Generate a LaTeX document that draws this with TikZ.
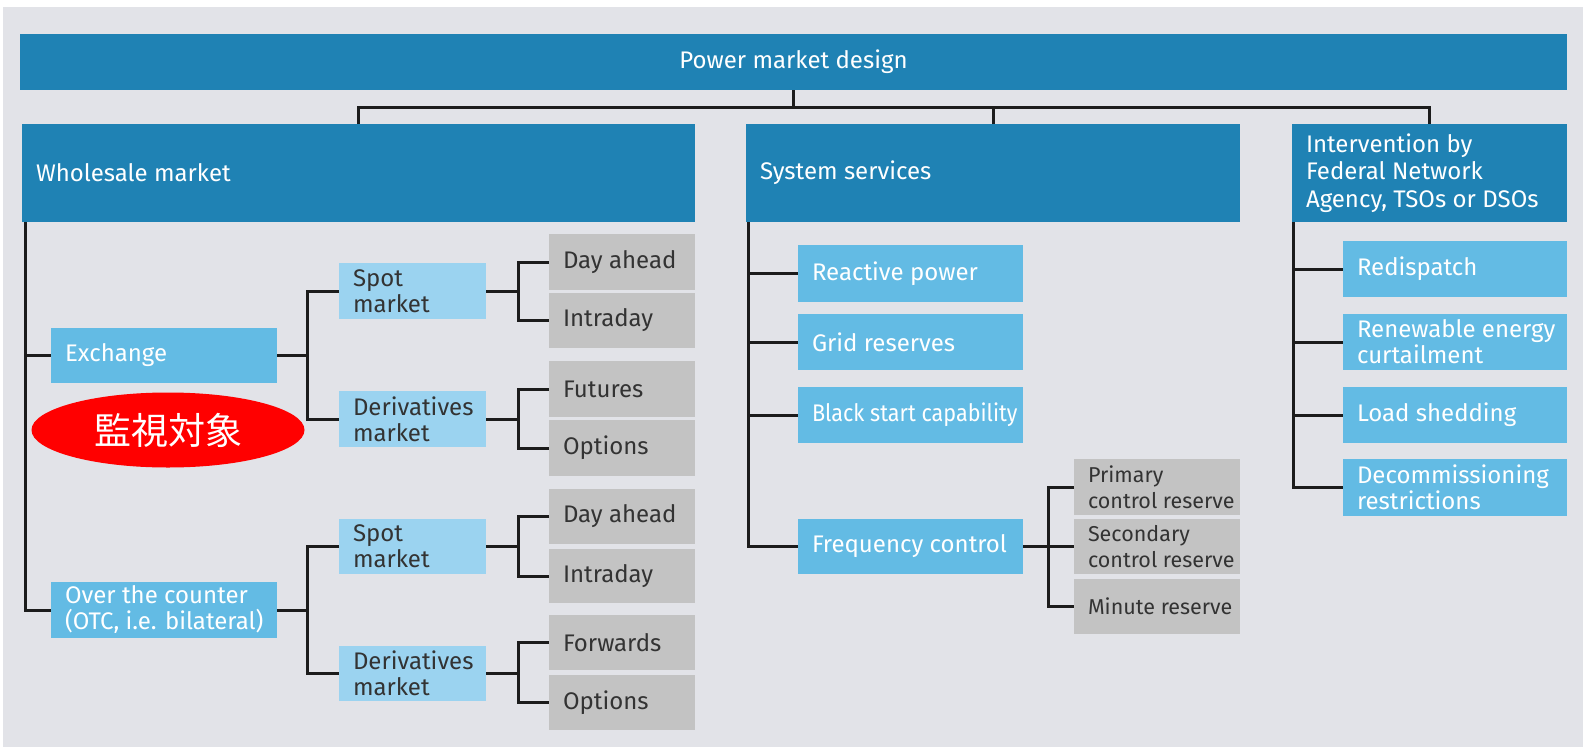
\documentclass[tikz,border=0pt]{standalone}
\usepackage{fontspec}
\setmainfont{Fira Sans}
\newfontfamily\narrowfont{Fira Sans}[FakeStretch=0.9]
\newfontfamily\cjkfont{Noto Sans CJK JP}
\usetikzlibrary{shapes.geometric}

\definecolor{pagebg}{HTML}{E2E3E8}
\definecolor{darkblue}{HTML}{1F82B4}
\definecolor{midblue}{HTML}{63BBE4}
\definecolor{lightblue}{HTML}{9BD3F0}
\definecolor{greybox}{HTML}{C3C3C3}
\definecolor{inktext}{HTML}{333333}
\definecolor{linec}{HTML}{1C1C1C}
\definecolor{alertred}{HTML}{FF0000}

% box: name, style, x, y (top left), width, height, label
\newcommand\panel[7]{%
  \node[#2, minimum width=#5pt, minimum height=#6pt] (#1) at (#3,#4) {};
  \node[#2 text, anchor=west] (#1-t) at ([xshift=14pt]#1.west) {#7};
}

\begin{document}
\begin{tikzpicture}[x=1pt, y=-1pt,
  box/.style={rectangle, inner sep=0pt, outer sep=0pt, anchor=north west},
  dark/.style={box, fill=darkblue},
  mid/.style={box, fill=midblue},
  light/.style={box, fill=lightblue},
  grey/.style={box, fill=greybox},
  label base/.style={inner sep=0pt, outer sep=0pt, align=left},
  dark text/.style={label base, text=white, font=\fontsize{24}{27.5}\selectfont},
  mid text/.style={label base, text=white, font=\fontsize{24}{26}\selectfont},
  light text/.style={label base, text=inktext, font=\fontsize{24}{26}\selectfont},
  grey text/.style={label base, text=inktext, font=\fontsize{24}{26}\selectfont},
  small grey/.style={box, fill=greybox},
  small grey text/.style={label base, text=inktext, font=\fontsize{21.5}{26}\selectfont},
  conn/.style={draw=linec, line width=3pt}]

% page
\useasboundingbox (0,0) rectangle (1583,750);
\fill[white] (0,0) rectangle (1583,750);
\fill[pagebg] (3,7) rectangle (1583,747);

% root
\node[dark, minimum width=1547pt, minimum height=56pt] (root) at (20,34) {};
\node[dark text, anchor=center] (root-t) at (root.center) {Power market design};

% first level
\panel{whole}{dark}{22}{124}{673}{98}{Wholesale market}
\panel{sys}{dark}{746}{124}{494}{98}{System services}
\panel{interv}{dark}{1292}{124}{275}{98}{Intervention by\\Federal Network\\Agency, TSOs or DSOs}

% wholesale market
\panel{exch}{mid}{51}{328}{226}{55}{Exchange}
\panel{otc}{mid}{51}{582}{226}{56}{Over the counter\\(OTC, i.e. bilateral)}
\panel{spot1}{light}{339}{263}{147}{56}{Spot\\market}
\panel{der1}{light}{339}{391}{147}{56}{Derivatives\\market}
\panel{spot2}{light}{339}{519}{147}{55}{Spot\\market}
\panel{der2}{light}{339}{646}{147}{55}{Derivatives\\market}
\panel{da1}{grey}{549}{234}{146}{56}{Day ahead}
\panel{in1}{grey}{549}{293}{146}{55}{Intraday}
\panel{fu1}{grey}{549}{361}{146}{56}{Futures}
\panel{op1}{grey}{549}{420}{146}{56}{Options}
\panel{da2}{grey}{549}{489}{146}{55}{Day ahead}
\panel{in2}{grey}{549}{549}{146}{54}{Intraday}
\panel{fw2}{grey}{549}{615}{146}{55}{Forwards}
\panel{op2}{grey}{549}{675}{146}{55}{Options}

% system services
\panel{react}{mid}{798}{245}{225}{57}{Reactive power}
\panel{grid}{mid}{798}{314}{225}{56}{Grid reserves}
\panel{black}{mid}{798}{387}{225}{56}{\narrowfont Black start capability}
\panel{freq}{mid}{798}{519}{225}{55}{Frequency control}
\panel{prim}{small grey}{1074}{459}{166}{56}{Primary\\control reserve}
\panel{sec}{small grey}{1074}{519}{166}{55}{Secondary\\control reserve}
\panel{minr}{small grey}{1074}{579}{166}{55}{Minute reserve}

% interventions
\panel{redis}{mid}{1343}{241}{224}{56}{Redispatch}
\panel{renew}{mid}{1343}{314}{224}{56}{Renewable energy\\curtailment}
\panel{load}{mid}{1343}{387}{224}{56}{Load shedding}
\panel{decom}{mid}{1343}{459}{224}{57}{Decommissioning\\restrictions}

% top level bus
\coordinate (bus) at (root.south |- 0,107);
\draw[conn] (root.south) -- (bus);
\draw[conn] (whole.north) |- (bus) -| (interv.north);
\draw[conn] (sys.north) -- (sys.north |- bus);

% spines
\coordinate (wsp) at ([xshift=3pt]whole.south west);
\coordinate (ssp) at ([xshift=2pt]sys.south west);
\coordinate (isp) at ([xshift=1.5pt]interv.south west);
\draw[conn] (wsp) |- (otc.west);
\draw[conn] (wsp |- exch.west) -- (exch.west);
\draw[conn] (ssp) |- (freq.west);
\draw[conn] (ssp |- react.west) -- (react.west);
\draw[conn] (ssp |- grid.west) -- (grid.west);
\draw[conn] (ssp |- black.west) -- (black.west);
\draw[conn] (isp) |- (decom.west);
\draw[conn] (isp |- redis.west) -- (redis.west);
\draw[conn] (isp |- renew.west) -- (renew.west);
\draw[conn] (isp |- load.west) -- (load.west);

% forks
\draw[conn] (exch.east) -- ++(30,0) coordinate (f-exch);
\draw[conn] (spot1.west) -| (f-exch) |- (der1.west);
\draw[conn] (otc.east) -- ++(30,0) coordinate (f-otc);
\draw[conn] (spot2.west) -| (f-otc) |- (der2.west);
\draw[conn] (spot1.east) -- ++(32,0) coordinate (f-s1);
\draw[conn] (da1.west) -| (f-s1) |- (in1.west);
\draw[conn] (der1.east) -- ++(32,0) coordinate (f-d1);
\draw[conn] (fu1.west) -| (f-d1) |- (op1.west);
\draw[conn] (spot2.east) -- ++(32,0) coordinate (f-s2);
\draw[conn] (da2.west) -| (f-s2) |- (in2.west);
\draw[conn] (der2.east) -- ++(32,0) coordinate (f-d2);
\draw[conn] (fw2.west) -| (f-d2) |- (op2.west);
\draw[conn] (freq.east) -- ++(25,0) coordinate (f-fr);
\draw[conn] (prim.west) -| (f-fr) |- (minr.west);
\draw[conn] (f-fr) -- (sec.west);

% highlight
\node[ellipse, fill=alertred, inner sep=0pt, minimum width=273pt, minimum height=75pt,
      text=white, font=\cjkfont\fontsize{37}{40}\selectfont] (watch) at (168,430) {監視対象};

\end{tikzpicture}
\end{document}
